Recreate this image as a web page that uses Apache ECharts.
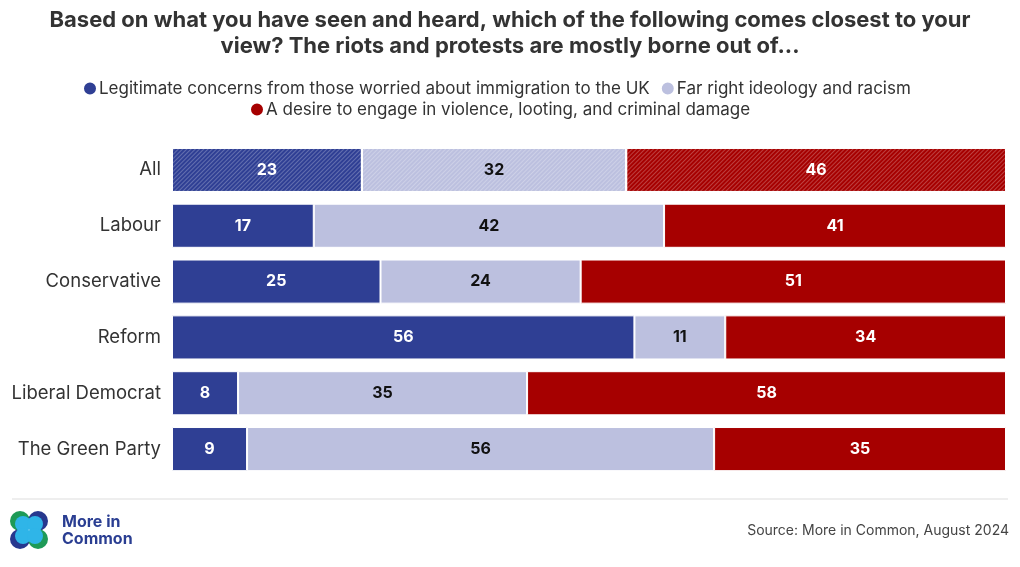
<!DOCTYPE html>
<html>
<head>
<meta charset="utf-8">
<script src="https://cdn.jsdelivr.net/npm/echarts@6/dist/echarts.min.js"></script>
<style>html,body{margin:0;padding:0;background:#fff}#c{width:1020px;height:567px}</style>
</head>
<body>
<div id="c"></div>
<script>
const categories = ['All', 'Labour', 'Conservative', 'Reform', 'Liberal Democrat', 'The Green Party'];
const seriesNames = [
  'Legitimate concerns from those worried about immigration to the UK',
  'Far right ideology and racism',
  'A desire to engage in violence, looting, and criminal damage'
];
const legitimate = [23, 17, 25, 56, 8, 9];
const farRight = [32, 42, 24, 11, 35, 56];
const violence = [46, 41, 51, 34, 58, 35];

const colors = ['#2f3f94', '#bcc0df', '#a60000'];
const labelColors = ['#ffffff', '#111111', '#ffffff'];
const raw = [legitimate, farRight, violence];
const totals = categories.map((c, i) => raw[0][i] + raw[1][i] + raw[2][i]);
const FONT = 'Inter, "Noto Sans", sans-serif';

const series = raw.map((arr, s) => ({
  name: seriesNames[s],
  type: 'bar',
  stack: 'total',
  barCategoryGap: '21%',
  itemStyle: { color: colors[s], borderColor: '#ffffff', borderWidth: 1 },
  label: {
    show: true, position: 'inside', color: labelColors[s],
    fontFamily: FONT, fontWeight: 'bold', fontSize: 16,
    formatter: p => raw[s][p.dataIndex]
  },
  data: arr.map((v, i) => {
    const d = { value: v / totals[i] * 100 };
    if (categories[i] === 'All') {
      d.itemStyle = {
        decal: {
          symbol: 'rect', dashArrayX: [1, 0], dashArrayY: [1, 2],
          rotation: -Math.PI / 4, color: 'rgba(255,255,255,0.25)'
        }
      };
    }
    return d;
  })
}));

const legendText = { fontFamily: FONT, fontSize: 17, color: '#333333', padding: [0, 0, 0, -3] };
const chart = echarts.init(document.getElementById('c'), null, { renderer: 'canvas' });
chart.setOption({
  animation: false,
  backgroundColor: '#ffffff',
  legend: [
    {
      data: [seriesNames[0], seriesNames[1]], left: 77, top: 75,
      icon: 'circle', itemWidth: 14, itemHeight: 14, itemGap: 10,
      textStyle: legendText
    },
    {
      data: [seriesNames[2]], left: 244, top: 96,
      icon: 'circle', itemWidth: 14, itemHeight: 14,
      textStyle: legendText
    }
  ],
  grid: { left: 172, right: 14, top: 142, bottom: 90 },
  xAxis: { type: 'value', min: 0, max: 100, show: false },
  yAxis: {
    type: 'category', data: categories, inverse: true,
    axisLine: { show: false }, axisTick: { show: false },
    axisLabel: { fontFamily: FONT, fontSize: 18.5, color: '#333333', margin: 11 }
  },
  series: series,
  graphic: [
    { type: 'text', x: 510, y: 7, style: {
        text: 'Based on what you have seen and heard, which of the following comes closest to your\nview? The riots and protests are mostly borne out of...',
        font: 'bold 22px ' + FONT, fill: '#333333', align: 'center', lineHeight: 26 } },
    { type: 'line', shape: { x1: 12, y1: 499, x2: 1008, y2: 499 }, style: { stroke: '#dddddd', lineWidth: 1 } },
    { type: 'text', right: 11, top: 524, style: { text: 'Source: More in Common, August 2024', font: '14px ' + FONT, fill: '#444444' } },
    { type: 'group', left: 10, top: 511, children: [
      { type: 'circle', shape: { cx: 10, cy: 10, r: 10 }, style: { fill: '#1e9a57' } },
      { type: 'circle', shape: { cx: 28, cy: 10, r: 10 }, style: { fill: '#27388e' } },
      { type: 'circle', shape: { cx: 10, cy: 28, r: 10 }, style: { fill: '#27388e' } },
      { type: 'circle', shape: { cx: 28, cy: 28, r: 10 }, style: { fill: '#1e9a57' } },
      { type: 'circle', shape: { cx: 13, cy: 13, r: 8 }, style: { fill: '#2fb5e8' } },
      { type: 'circle', shape: { cx: 25, cy: 13, r: 8 }, style: { fill: '#2fb5e8' } },
      { type: 'circle', shape: { cx: 13, cy: 25, r: 8 }, style: { fill: '#2fb5e8' } },
      { type: 'circle', shape: { cx: 25, cy: 25, r: 8 }, style: { fill: '#2fb5e8' } }
    ]},
    { type: 'text', left: 62, top: 514, style: { text: 'More in\nCommon', font: 'bold 16px ' + FONT, fill: '#2a3e92', lineHeight: 17 } }
  ]
});
</script>
</body>
</html>
